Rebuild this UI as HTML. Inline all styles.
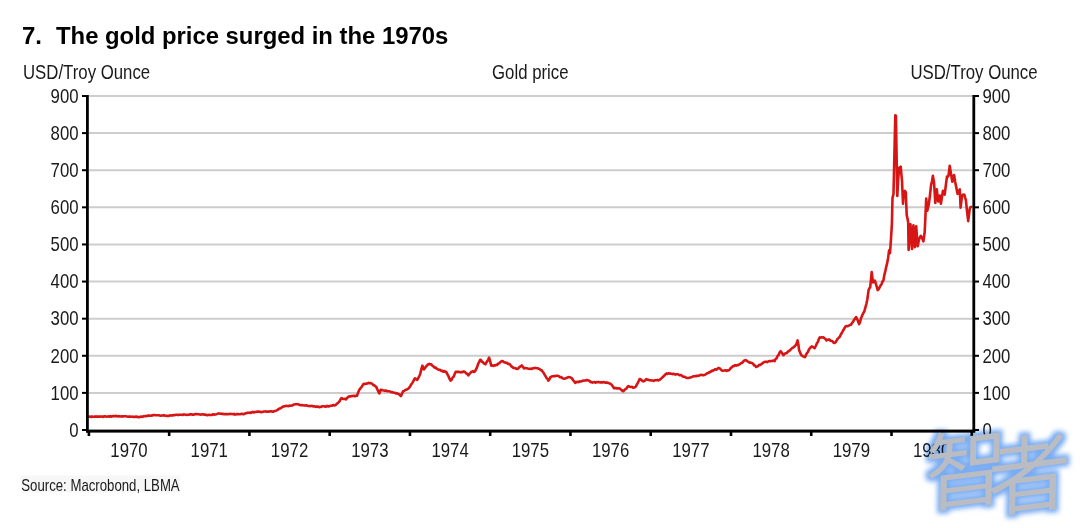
<!DOCTYPE html>
<html><head><meta charset="utf-8"><style>
html,body{margin:0;padding:0;background:#fff;}
body{width:1080px;height:528px;overflow:hidden;position:relative;}
svg{position:absolute;left:0;top:0;}
.t{font-family:'Liberation Sans', Arial, sans-serif;font-size:20px;fill:#1a1a1a;}
.ttl{font-family:'Liberation Sans', Arial, sans-serif;font-size:24px;font-weight:bold;fill:#000;}
.src{font-family:'Liberation Sans', Arial, sans-serif;font-size:16px;fill:#1a1a1a;}
.wm{font-family:"Liberation Sans","Noto Sans CJK SC","WenQuanYi Zen Hei",sans-serif;font-weight:400;font-size:84px;fill:#b9bcc3;}
</style></head><body>
<svg width="1080" height="528" viewBox="0 0 1080 528">
<defs>
<filter id="glow" x="-20%" y="-20%" width="140%" height="140%">
<feMorphology in="SourceAlpha" operator="dilate" radius="3" result="d"/>
<feGaussianBlur in="d" stdDeviation="2.6" result="b"/>
<feFlood flood-color="#78acf3"/>
<feComposite in2="b" operator="in"/>
</filter>
</defs>
<text x="22.0" y="44" class="ttl">7.</text>
<text x="56.0" y="44" class="ttl" style="font-size:23.85px">The gold price surged in the 1970s</text>
<rect x="21" y="475.5" width="159" height="17" fill="#f7f7f7"/>
<text transform="translate(21.3,490.5) scale(0.825,1)" class="src">Source: Macrobond, LBMA</text>
<line x1="89" y1="392.89" x2="972.5" y2="392.89" stroke="#cdcdcd" stroke-width="2"/>
<line x1="89" y1="355.78" x2="972.5" y2="355.78" stroke="#cdcdcd" stroke-width="2"/>
<line x1="89" y1="318.67" x2="972.5" y2="318.67" stroke="#cdcdcd" stroke-width="2"/>
<line x1="89" y1="281.56" x2="972.5" y2="281.56" stroke="#cdcdcd" stroke-width="2"/>
<line x1="89" y1="244.44" x2="972.5" y2="244.44" stroke="#cdcdcd" stroke-width="2"/>
<line x1="89" y1="207.33" x2="972.5" y2="207.33" stroke="#cdcdcd" stroke-width="2"/>
<line x1="89" y1="170.22" x2="972.5" y2="170.22" stroke="#cdcdcd" stroke-width="2"/>
<line x1="89" y1="133.11" x2="972.5" y2="133.11" stroke="#cdcdcd" stroke-width="2"/>
<line x1="89" y1="96.00" x2="972.5" y2="96.00" stroke="#cdcdcd" stroke-width="2"/>
<path d="M88.0,416.9 L89.0,416.7 L90.0,416.6 L91.0,417.0 L92.0,416.5 L93.0,416.8 L94.0,416.7 L95.0,416.4 L96.0,416.8 L97.0,416.4 L98.0,416.7 L99.0,416.4 L100.0,416.7 L101.0,416.4 L101.9,416.6 L102.9,416.9 L103.9,416.3 L104.9,416.3 L105.8,416.6 L106.8,416.8 L107.8,416.5 L108.8,416.3 L109.7,416.7 L110.7,416.0 L111.7,416.6 L112.7,416.1 L113.6,416.0 L114.6,416.2 L115.6,415.9 L116.7,416.1 L117.7,416.5 L118.7,416.1 L119.8,416.4 L120.8,416.5 L121.8,416.3 L122.9,416.5 L123.9,416.2 L124.9,416.2 L126.0,416.3 L127.0,416.6 L128.0,416.8 L129.0,416.6 L130.0,416.5 L130.9,416.8 L131.9,416.7 L132.9,416.6 L133.9,417.0 L134.9,416.9 L135.9,416.6 L136.8,416.9 L137.8,416.9 L138.8,417.2 L139.8,416.9 L140.8,416.9 L141.8,416.5 L142.8,416.9 L143.7,416.1 L144.7,416.2 L145.7,416.3 L146.7,415.7 L147.7,415.9 L148.7,415.4 L149.7,415.8 L150.7,415.7 L151.6,415.4 L152.6,415.5 L153.6,415.0 L154.6,415.0 L155.6,415.2 L156.7,415.2 L157.7,415.2 L158.7,415.2 L159.8,415.5 L160.8,415.7 L161.8,415.4 L162.8,415.6 L163.9,415.1 L164.9,415.7 L165.9,415.7 L167.0,416.0 L168.0,415.7 L169.0,415.9 L170.0,415.4 L171.0,415.4 L172.0,415.6 L173.0,415.0 L174.0,415.3 L175.0,415.0 L176.0,414.8 L177.0,414.7 L178.0,415.2 L179.0,414.7 L180.0,414.7 L181.0,414.8 L182.0,414.7 L182.9,415.0 L183.9,414.4 L184.9,414.6 L185.9,414.7 L186.8,414.9 L187.8,414.8 L188.8,414.8 L189.7,414.3 L190.7,414.4 L191.7,414.3 L192.7,414.7 L193.6,414.7 L194.6,414.3 L195.6,414.1 L196.7,414.1 L197.7,414.2 L198.7,414.3 L199.7,414.5 L200.8,414.6 L201.8,414.4 L202.8,414.3 L203.8,414.6 L204.8,414.6 L205.9,414.8 L206.9,415.2 L207.9,415.0 L208.9,414.9 L210.0,415.0 L211.0,415.0 L212.0,414.9 L213.1,414.2 L214.1,414.7 L215.2,414.4 L216.2,414.2 L217.3,413.9 L218.3,413.5 L219.3,413.5 L220.3,413.7 L221.3,413.6 L222.3,414.1 L223.3,413.8 L224.3,414.3 L225.3,414.0 L226.3,414.1 L227.2,414.0 L228.2,414.2 L229.2,414.0 L230.2,413.9 L231.2,414.0 L232.2,414.0 L233.1,414.2 L234.1,413.9 L235.1,414.6 L236.1,414.4 L237.1,414.0 L238.0,414.1 L239.0,414.2 L240.0,414.3 L241.0,414.0 L242.0,413.7 L243.0,414.1 L243.9,414.1 L244.9,413.5 L245.9,413.4 L246.9,412.9 L247.9,412.8 L248.9,412.8 L249.9,412.6 L250.9,412.9 L251.8,412.2 L252.8,411.9 L253.8,412.5 L254.8,412.0 L255.8,412.0 L256.8,411.6 L257.8,411.9 L258.8,411.5 L259.9,411.8 L260.9,412.2 L261.9,412.0 L262.9,411.9 L263.9,411.5 L264.9,411.5 L265.9,411.3 L266.9,411.8 L267.9,411.5 L268.9,411.7 L270.0,411.3 L271.0,411.2 L272.0,411.6 L273.0,411.7 L274.0,411.3 L275.0,411.1 L276.1,410.6 L277.1,410.1 L278.2,409.5 L279.2,408.6 L280.2,408.4 L281.3,407.8 L282.3,407.0 L283.4,406.5 L284.4,406.4 L285.4,406.0 L286.4,405.9 L287.4,406.0 L288.4,406.1 L289.4,405.5 L290.4,405.7 L291.3,405.6 L292.3,405.4 L293.3,404.7 L294.3,404.4 L295.3,404.2 L296.3,404.3 L297.3,404.2 L298.3,404.3 L299.3,404.8 L300.3,405.1 L301.2,405.2 L302.2,405.0 L303.2,405.3 L304.2,405.5 L305.2,405.4 L306.2,405.2 L307.2,405.7 L308.2,406.0 L309.1,406.0 L310.1,406.1 L311.1,406.0 L312.1,405.8 L313.1,406.4 L314.1,406.2 L315.1,406.6 L316.1,406.9 L317.0,406.5 L318.0,406.6 L319.0,407.2 L320.0,406.9 L321.0,407.0 L322.0,406.4 L323.0,406.3 L323.9,406.2 L324.9,406.7 L325.9,406.6 L326.9,405.9 L327.9,406.4 L328.9,406.4 L329.9,406.0 L330.9,405.7 L331.8,405.7 L332.8,405.3 L333.8,405.1 L334.8,405.4 L335.7,405.0 L336.6,404.0 L337.6,403.2 L338.5,402.4 L339.5,401.3 L340.5,399.4 L341.5,398.0 L342.6,398.7 L343.7,399.0 L344.8,398.8 L345.9,399.4 L346.9,398.2 L347.9,397.3 L348.9,396.5 L349.9,396.2 L350.9,396.4 L351.9,396.0 L352.9,396.0 L354.0,395.7 L355.0,396.3 L356.0,395.7 L357.0,395.7 L358.1,392.7 L359.3,389.8 L360.4,388.4 L361.5,387.2 L362.6,385.3 L363.7,383.9 L364.7,384.2 L365.6,383.7 L366.6,383.6 L367.5,383.5 L368.5,382.9 L369.4,383.2 L370.4,383.1 L371.4,383.4 L372.4,383.9 L373.4,385.3 L374.3,385.3 L375.3,386.2 L376.3,386.9 L377.3,389.3 L378.3,391.4 L379.3,393.5 L380.7,389.8 L381.8,389.9 L382.8,390.2 L383.9,390.5 L384.9,390.9 L386.0,390.5 L387.0,391.1 L388.1,391.3 L389.1,391.3 L390.1,391.5 L391.1,392.1 L392.0,392.1 L393.0,392.4 L394.0,392.7 L395.0,392.7 L395.9,393.4 L396.9,393.2 L397.8,393.7 L398.7,393.9 L399.8,395.0 L400.9,396.1 L402.0,393.7 L403.1,391.2 L404.1,390.9 L405.2,390.2 L406.2,389.7 L407.3,389.2 L408.3,388.7 L409.3,387.6 L410.3,386.0 L411.3,384.3 L412.2,383.2 L413.1,381.7 L414.1,379.6 L415.0,378.3 L416.1,379.1 L417.2,379.8 L418.2,378.3 L419.2,376.2 L420.2,373.9 L421.3,369.4 L422.4,365.7 L423.1,367.2 L423.9,369.4 L425.0,368.1 L426.1,366.4 L427.2,365.3 L428.3,364.3 L429.3,363.9 L430.3,364.5 L431.3,364.3 L432.4,365.7 L433.5,366.5 L434.6,367.6 L435.8,367.6 L436.9,368.9 L438.0,369.4 L439.1,369.9 L440.2,369.8 L441.3,370.9 L442.4,370.9 L443.3,371.6 L444.2,371.0 L445.2,371.9 L446.1,371.7 L447.2,373.8 L448.4,376.1 L449.5,378.8 L450.6,380.6 L451.6,379.7 L452.5,377.8 L453.5,376.9 L454.6,374.2 L455.7,371.7 L456.8,371.9 L457.9,371.9 L459.1,371.9 L460.2,372.4 L461.3,372.0 L462.4,372.3 L463.5,371.4 L464.6,371.7 L465.5,372.7 L466.5,373.5 L467.4,374.0 L468.3,375.4 L469.3,374.0 L470.3,373.1 L471.3,371.7 L472.2,371.6 L473.1,371.1 L474.1,372.0 L475.0,371.4 L476.0,369.4 L477.1,367.2 L478.1,364.0 L479.2,361.9 L480.2,359.8 L481.1,360.2 L482.0,361.9 L483.0,362.3 L483.9,363.5 L484.6,363.5 L485.4,364.3 L486.3,362.5 L487.2,361.4 L488.2,359.6 L489.1,357.6 L490.2,361.4 L491.3,365.7 L492.3,365.2 L493.3,365.9 L494.2,365.4 L495.2,365.4 L496.2,364.7 L497.2,365.0 L498.3,363.5 L499.4,363.2 L500.6,361.9 L501.7,361.0 L502.8,361.0 L503.8,362.3 L504.9,362.4 L505.9,363.0 L507.0,362.7 L508.0,363.9 L509.1,364.0 L510.2,364.6 L511.3,366.4 L512.4,367.0 L513.5,368.0 L514.6,368.0 L515.8,368.4 L516.9,369.0 L518.0,368.7 L518.9,367.6 L519.9,366.7 L520.8,366.3 L521.7,365.4 L522.8,366.6 L523.9,368.4 L524.9,368.1 L525.9,368.3 L526.8,368.2 L527.8,368.5 L528.8,368.7 L529.8,369.0 L530.8,368.6 L531.8,368.9 L532.8,368.3 L533.7,368.3 L534.7,367.8 L535.7,368.0 L536.7,368.2 L537.7,368.2 L538.7,368.8 L539.7,369.0 L540.7,370.1 L541.7,370.2 L542.7,371.7 L543.6,372.8 L544.6,374.6 L545.5,376.1 L546.5,378.0 L547.4,378.7 L548.3,380.6 L549.5,379.1 L550.6,376.9 L551.8,376.5 L553.0,376.2 L554.0,376.1 L555.0,376.3 L556.1,375.8 L557.1,375.8 L558.1,375.7 L559.1,376.4 L560.1,377.2 L561.1,377.0 L562.1,378.0 L563.1,378.4 L564.1,378.7 L565.1,378.5 L566.2,378.0 L567.2,377.7 L568.3,377.1 L569.3,377.2 L570.3,377.3 L571.2,377.8 L572.2,378.7 L573.2,380.3 L574.2,381.3 L575.2,382.9 L576.3,382.2 L577.4,381.8 L578.5,382.1 L579.6,381.4 L580.6,381.6 L581.6,381.3 L582.7,380.7 L583.7,380.6 L584.7,380.5 L585.8,380.5 L586.8,380.0 L587.8,380.2 L588.7,380.6 L589.6,380.9 L590.6,382.1 L591.5,382.1 L592.5,382.6 L593.5,382.2 L594.5,382.0 L595.5,382.7 L596.4,382.1 L597.4,382.2 L598.4,381.9 L599.4,382.3 L600.4,382.4 L601.5,382.4 L602.6,382.4 L603.7,382.1 L604.8,382.4 L605.8,382.7 L606.8,382.4 L607.8,382.9 L608.7,383.0 L609.7,383.6 L610.7,383.9 L611.8,384.9 L612.9,386.4 L614.0,388.3 L614.9,388.1 L615.9,388.1 L616.8,388.4 L617.7,388.3 L618.7,388.5 L619.6,388.3 L620.5,389.2 L621.5,390.0 L622.4,390.9 L623.3,391.3 L624.3,390.2 L625.4,389.1 L626.4,388.6 L627.5,386.8 L628.5,386.1 L629.6,386.7 L630.8,387.0 L631.9,386.8 L633.0,387.6 L634.0,387.5 L634.9,387.2 L635.9,386.4 L636.8,384.7 L637.8,382.9 L638.7,381.1 L639.6,379.0 L640.5,379.3 L641.5,380.2 L642.4,380.8 L643.3,381.4 L644.3,381.0 L645.3,380.2 L646.3,379.1 L647.4,379.7 L648.4,379.7 L649.5,380.2 L650.5,380.3 L651.6,380.6 L652.6,380.4 L653.7,380.9 L654.7,380.3 L655.7,380.2 L656.7,380.3 L657.6,379.9 L658.6,380.4 L659.6,379.9 L660.6,379.0 L661.6,378.2 L662.6,377.2 L663.6,376.3 L664.6,375.2 L665.6,374.3 L666.6,373.4 L667.5,373.9 L668.5,373.2 L669.5,373.6 L670.5,373.6 L671.5,373.8 L672.4,374.1 L673.4,373.7 L674.4,374.3 L675.4,374.6 L676.4,374.3 L677.4,374.2 L678.4,374.5 L679.4,375.1 L680.4,375.0 L681.3,375.1 L682.3,376.1 L683.2,376.7 L684.2,376.7 L685.1,377.0 L686.1,377.6 L687.0,378.0 L688.0,378.0 L689.1,377.8 L690.1,377.5 L691.2,377.3 L692.2,376.9 L693.2,376.3 L694.2,376.2 L695.2,376.1 L696.1,376.3 L697.1,375.7 L698.1,375.7 L699.1,375.6 L700.1,375.0 L701.1,374.9 L702.1,375.0 L703.1,375.3 L704.1,375.0 L705.1,374.7 L706.1,374.2 L707.0,373.3 L708.0,373.0 L709.0,372.5 L710.0,372.0 L711.0,371.5 L712.0,370.6 L712.9,370.9 L713.9,370.0 L714.9,369.3 L716.0,369.7 L717.0,369.3 L718.1,368.0 L719.1,368.1 L720.0,368.7 L721.0,369.7 L721.9,370.5 L722.8,370.7 L723.8,370.6 L724.8,370.4 L725.8,370.3 L726.7,370.9 L727.7,370.2 L728.7,370.4 L729.8,369.4 L730.9,367.8 L732.0,367.1 L733.1,366.0 L734.1,366.2 L735.1,365.1 L736.1,365.6 L737.1,365.0 L738.1,365.1 L739.1,364.5 L740.0,364.1 L741.0,363.0 L741.9,363.0 L742.9,362.0 L743.8,360.9 L744.8,360.2 L745.7,360.1 L746.6,360.7 L747.5,361.3 L748.5,361.8 L749.4,362.6 L750.4,362.5 L751.4,362.9 L752.4,363.3 L753.3,364.0 L754.2,365.5 L755.2,365.6 L756.1,367.0 L757.1,366.6 L758.1,366.1 L759.2,364.8 L760.2,365.0 L761.2,364.2 L762.2,363.7 L763.3,362.5 L764.3,362.1 L765.3,361.8 L766.3,361.7 L767.2,362.1 L768.2,361.5 L769.2,361.1 L770.2,361.1 L771.3,361.0 L772.4,360.9 L773.5,360.6 L774.6,361.1 L775.6,359.0 L776.6,358.2 L777.6,355.9 L778.6,355.0 L779.6,352.6 L780.6,351.2 L781.6,352.3 L782.5,353.9 L783.5,355.2 L784.6,353.9 L785.8,353.2 L786.9,352.9 L788.0,351.5 L789.1,351.0 L790.2,350.0 L791.3,348.9 L792.4,347.8 L793.3,347.5 L794.2,346.8 L795.2,345.6 L796.1,344.8 L796.9,342.8 L797.6,340.4 L798.4,344.7 L799.1,350.0 L800.2,352.9 L801.3,355.2 L802.2,355.6 L803.1,356.4 L804.1,356.8 L805.0,357.1 L805.9,355.1 L806.9,353.1 L807.8,352.2 L808.7,350.0 L809.7,348.4 L810.7,347.5 L811.7,346.3 L812.7,346.8 L813.6,347.3 L814.6,348.2 L815.8,346.0 L816.9,343.3 L817.9,341.9 L818.8,339.1 L819.8,337.4 L820.7,337.6 L821.6,337.2 L822.6,337.5 L823.5,337.4 L824.5,338.3 L825.5,339.0 L826.5,340.4 L827.5,339.7 L828.4,339.5 L829.4,339.6 L830.4,340.7 L831.5,340.9 L832.5,341.3 L833.6,342.7 L834.6,342.9 L835.6,342.2 L836.7,340.4 L837.7,338.8 L838.8,337.6 L839.8,336.7 L840.8,334.5 L841.8,333.0 L842.8,331.0 L843.7,329.5 L844.7,327.7 L845.7,326.3 L846.7,326.1 L847.8,326.2 L848.8,325.7 L849.9,325.0 L850.9,324.8 L851.9,323.2 L853.0,321.8 L854.0,320.0 L855.1,318.4 L856.1,317.1 L857.1,318.9 L858.1,321.5 L859.1,324.1 L860.1,321.9 L861.0,318.2 L862.0,315.9 L863.2,313.4 L864.5,310.9 L865.4,307.3 L866.4,303.8 L867.3,299.5 L868.6,290.1 L869.4,288.3 L870.2,287.2 L871.0,279.3 L871.7,272.1 L873.0,282.5 L874.0,281.2 L874.9,280.6 L875.8,283.6 L876.8,286.9 L877.7,290.1 L878.7,289.1 L879.6,287.4 L880.6,285.3 L881.5,284.3 L882.5,281.5 L883.4,280.6 L884.3,275.2 L885.3,271.1 L886.2,267.0 L887.2,262.9 L888.1,257.9 L889.1,250.3 L890.0,253.1 L891.0,238.9 L891.9,223.8 L892.5,197.9 L893.5,194.0 L894.4,154.6 L895.3,115.3 L895.9,115.6 L897.3,196.0 L898.2,179.0 L899.2,167.6 L900.0,167.3 L900.7,166.6 L902.0,180.8 L903.0,203.6 L903.9,191.3 L904.8,190.8 L905.8,192.2 L906.7,214.9 L907.5,218.5 L908.2,222.5 L908.6,250.0 L909.5,237.9 L910.5,224.4 L911.2,237.2 L912.0,249.0 L913.4,225.3 L914.1,236.8 L914.9,247.1 L916.2,226.3 L917.0,237.0 L917.7,246.2 L919.0,239.5 L920.0,237.2 L920.9,235.8 L922.1,238.0 L923.4,241.4 L924.7,232.0 L925.5,214.6 L926.2,198.5 L927.3,210.6 L928.0,207.6 L928.8,204.5 L930.0,195.0 L931.1,184.8 L932.0,181.2 L932.9,175.8 L934.1,183.3 L935.3,203.0 L936.0,196.6 L936.8,189.4 L937.5,195.7 L938.3,201.5 L939.0,199.0 L939.8,195.5 L940.9,203.8 L941.9,197.3 L942.9,190.9 L943.8,192.9 L944.7,194.7 L945.9,184.7 L947.0,176.5 L947.8,176.7 L948.5,175.8 L949.7,165.9 L951.1,174.2 L952.3,181.8 L953.2,177.9 L954.1,175.0 L955.1,181.5 L956.1,186.4 L956.9,190.4 L957.6,193.9 L958.7,191.3 L959.8,189.4 L960.6,207.6 L961.4,200.9 L962.1,195.5 L963.2,194.6 L964.4,194.7 L965.1,197.6 L965.9,200.0 L967.0,211.0 L968.2,221.2 L969.0,214.5 L969.7,209.1 L970.5,207.2 L971.2,206.8" fill="none" stroke="#d81515" stroke-width="2.6" stroke-linejoin="round" stroke-linecap="round"/>
<rect x="86" y="95" width="2.8" height="337.5" fill="#000"/>
<rect x="972.4" y="95" width="2.8" height="337.5" fill="#000"/>
<rect x="86" y="429.6" width="889.2" height="3" fill="#000"/>
<rect x="82" y="429.00" width="5" height="2" fill="#000"/>
<rect x="974" y="429.00" width="5" height="2" fill="#000"/>
<rect x="82" y="391.89" width="5" height="2" fill="#000"/>
<rect x="974" y="391.89" width="5" height="2" fill="#000"/>
<rect x="82" y="354.78" width="5" height="2" fill="#000"/>
<rect x="974" y="354.78" width="5" height="2" fill="#000"/>
<rect x="82" y="317.67" width="5" height="2" fill="#000"/>
<rect x="974" y="317.67" width="5" height="2" fill="#000"/>
<rect x="82" y="280.56" width="5" height="2" fill="#000"/>
<rect x="974" y="280.56" width="5" height="2" fill="#000"/>
<rect x="82" y="243.44" width="5" height="2" fill="#000"/>
<rect x="974" y="243.44" width="5" height="2" fill="#000"/>
<rect x="82" y="206.33" width="5" height="2" fill="#000"/>
<rect x="974" y="206.33" width="5" height="2" fill="#000"/>
<rect x="82" y="169.22" width="5" height="2" fill="#000"/>
<rect x="974" y="169.22" width="5" height="2" fill="#000"/>
<rect x="82" y="132.11" width="5" height="2" fill="#000"/>
<rect x="974" y="132.11" width="5" height="2" fill="#000"/>
<rect x="82" y="95.00" width="5" height="2" fill="#000"/>
<rect x="974" y="95.00" width="5" height="2" fill="#000"/>
<rect x="87.60" y="431" width="2.6" height="5" fill="#000"/>
<rect x="167.86" y="431" width="2.6" height="5" fill="#000"/>
<rect x="248.12" y="431" width="2.6" height="5" fill="#000"/>
<rect x="328.38" y="431" width="2.6" height="5" fill="#000"/>
<rect x="408.64" y="431" width="2.6" height="5" fill="#000"/>
<rect x="488.90" y="431" width="2.6" height="5" fill="#000"/>
<rect x="569.16" y="431" width="2.6" height="5" fill="#000"/>
<rect x="649.42" y="431" width="2.6" height="5" fill="#000"/>
<rect x="729.68" y="431" width="2.6" height="5" fill="#000"/>
<rect x="809.94" y="431" width="2.6" height="5" fill="#000"/>
<rect x="890.20" y="431" width="2.6" height="5" fill="#000"/>
<rect x="970.46" y="431" width="2.6" height="5" fill="#000"/>
<text transform="translate(78.60,436.80) scale(0.84,1)" class="t" text-anchor="end">0</text>
<text transform="translate(982.40,436.80) scale(0.84,1)" class="t">0</text>
<text transform="translate(78.60,399.69) scale(0.84,1)" class="t" text-anchor="end">100</text>
<text transform="translate(982.40,399.69) scale(0.84,1)" class="t">100</text>
<text transform="translate(78.60,362.58) scale(0.84,1)" class="t" text-anchor="end">200</text>
<text transform="translate(982.40,362.58) scale(0.84,1)" class="t">200</text>
<text transform="translate(78.60,325.47) scale(0.84,1)" class="t" text-anchor="end">300</text>
<text transform="translate(982.40,325.47) scale(0.84,1)" class="t">300</text>
<text transform="translate(78.60,288.36) scale(0.84,1)" class="t" text-anchor="end">400</text>
<text transform="translate(982.40,288.36) scale(0.84,1)" class="t">400</text>
<text transform="translate(78.60,251.24) scale(0.84,1)" class="t" text-anchor="end">500</text>
<text transform="translate(982.40,251.24) scale(0.84,1)" class="t">500</text>
<text transform="translate(78.60,214.13) scale(0.84,1)" class="t" text-anchor="end">600</text>
<text transform="translate(982.40,214.13) scale(0.84,1)" class="t">600</text>
<text transform="translate(78.60,177.02) scale(0.84,1)" class="t" text-anchor="end">700</text>
<text transform="translate(982.40,177.02) scale(0.84,1)" class="t">700</text>
<text transform="translate(78.60,139.91) scale(0.84,1)" class="t" text-anchor="end">800</text>
<text transform="translate(982.40,139.91) scale(0.84,1)" class="t">800</text>
<text transform="translate(78.60,102.80) scale(0.84,1)" class="t" text-anchor="end">900</text>
<text transform="translate(982.40,102.80) scale(0.84,1)" class="t">900</text>
<text transform="translate(129.03,456.80) scale(0.84,1)" class="t" text-anchor="middle">1970</text>
<text transform="translate(209.29,456.80) scale(0.84,1)" class="t" text-anchor="middle">1971</text>
<text transform="translate(289.55,456.80) scale(0.84,1)" class="t" text-anchor="middle">1972</text>
<text transform="translate(369.81,456.80) scale(0.84,1)" class="t" text-anchor="middle">1973</text>
<text transform="translate(450.07,456.80) scale(0.84,1)" class="t" text-anchor="middle">1974</text>
<text transform="translate(530.33,456.80) scale(0.84,1)" class="t" text-anchor="middle">1975</text>
<text transform="translate(610.59,456.80) scale(0.84,1)" class="t" text-anchor="middle">1976</text>
<text transform="translate(690.85,456.80) scale(0.84,1)" class="t" text-anchor="middle">1977</text>
<text transform="translate(771.11,456.80) scale(0.84,1)" class="t" text-anchor="middle">1978</text>
<text transform="translate(851.37,456.80) scale(0.84,1)" class="t" text-anchor="middle">1979</text>
<text transform="translate(931.63,456.80) scale(0.84,1)" class="t" text-anchor="middle">1980</text>
<text transform="translate(23.00,78.80) scale(0.84,1)" class="t">USD/Troy Ounce</text>
<text transform="translate(530.30,78.80) scale(0.84,1)" class="t" text-anchor="middle">Gold price</text>
<text transform="translate(1037.60,78.80) scale(0.84,1)" class="t" text-anchor="end">USD/Troy Ounce</text>
<g filter="url(#glow)" style="mix-blend-mode:multiply"><text transform="translate(924,506) rotate(-7) skewX(-8)" class="wm">智</text><text transform="translate(987,511) rotate(-7) skewX(-8)" class="wm">者</text></g>
<g><text transform="translate(924,506) rotate(-7) skewX(-8)" class="wm">智</text><text transform="translate(987,511) rotate(-7) skewX(-8)" class="wm">者</text></g>
</svg>
</body></html>
